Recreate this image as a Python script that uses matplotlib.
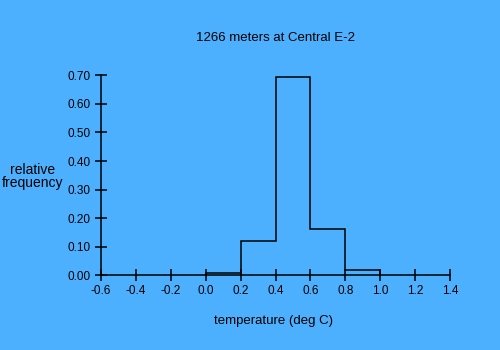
import matplotlib
matplotlib.use("Agg")
import matplotlib.pyplot as plt
import numpy as np

bin_edges = [0.0, 0.2, 0.4, 0.6, 0.8, 1.0]
frequencies = [0.008, 0.119, 0.693, 0.161, 0.018]
xticks = [-0.6, -0.4, -0.2, 0.0, 0.2, 0.4, 0.6, 0.8, 1.0, 1.2, 1.4]
yticks = [0.0, 0.1, 0.2, 0.3, 0.4, 0.5, 0.6, 0.7]

bg = "#4DB0FF"
plt.rcParams['font.family'] = ['Liberation Sans', 'DejaVu Sans']

fig = plt.figure(figsize=(5, 3.5), dpi=100, facecolor=bg)
ax = fig.add_axes([0.2014, 0.2134, 0.6992, 0.5715])
ax.set_facecolor(bg)

ax.stairs(frequencies, bin_edges, color="black", linewidth=1.1, baseline=0)

ax.set_xlim(-0.6, 1.4)
ax.set_ylim(0, 0.70)
ax.set_xticks(xticks)
ax.set_xticklabels([f"{v:.1f}" for v in xticks], fontsize=8.5)
ax.set_yticks(yticks)
ax.set_yticklabels([f"{v:.2f}" for v in yticks], fontsize=8.5)
ax.tick_params(direction="inout", length=8, width=1.1, colors="black", pad=3)

for s in ["top", "right"]:
    ax.spines[s].set_visible(False)
for s in ["left", "bottom"]:
    ax.spines[s].set_linewidth(1.1)
    ax.spines[s].set_color("black")

fig.text(0.551, 0.891, "1266 meters at Central E-2", ha="center", va="center", fontsize=9.5)
fig.text(0.066, 0.497, "relative\nfrequency", ha="center", va="center", fontsize=10, linespacing=0.9)
fig.text(0.548, 0.083, "temperature (deg C)", ha="center", va="center", fontsize=9.5)

fig.savefig("out.png", dpi=100, facecolor=bg)
